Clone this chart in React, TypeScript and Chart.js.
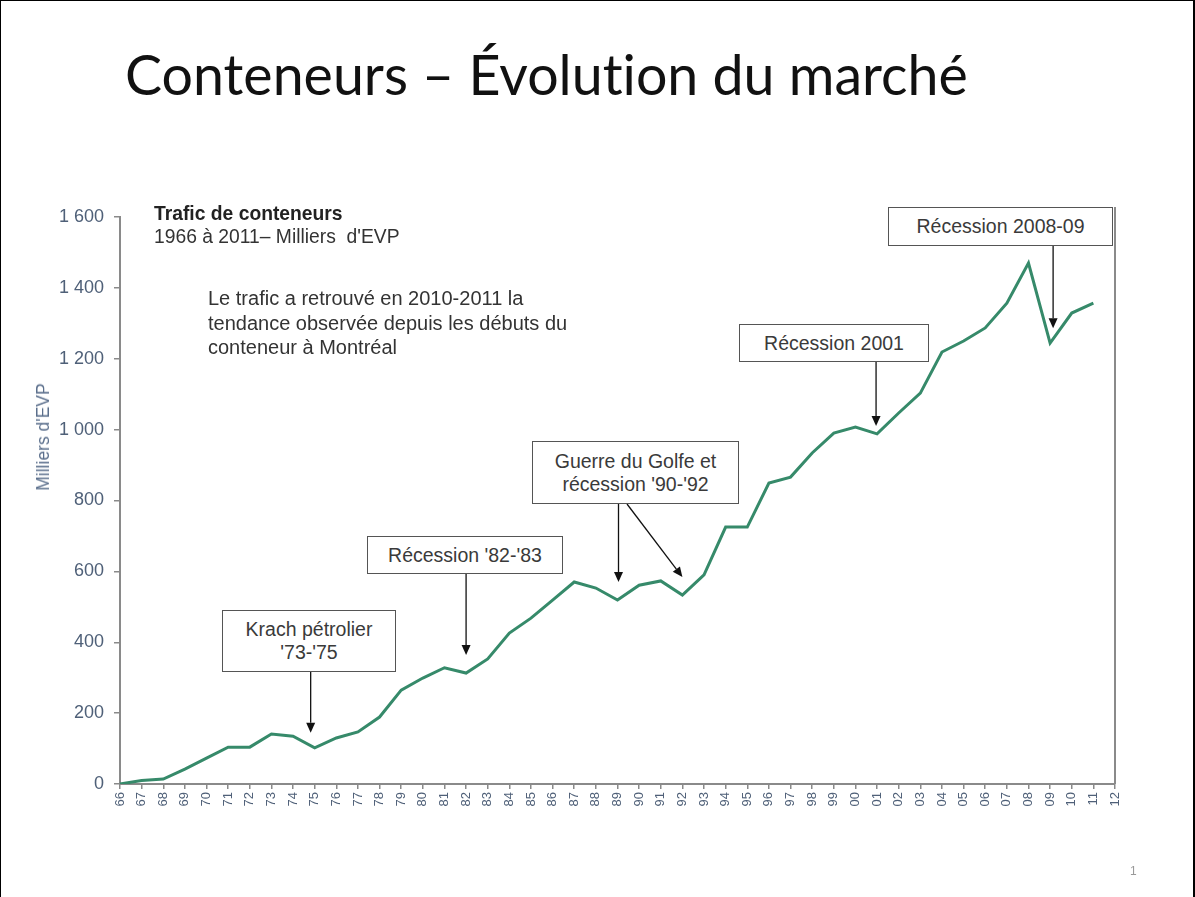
import React, { useEffect, useRef } from 'react';
import { Chart, registerables } from 'chart.js';

Chart.register(...registerables);

const xLabels = ['66','67','68','69','70','71','72','73','74','75','76','77','78','79','80','81','82','83','84','85','86','87','88','89','90','91','92','93','94','95','96','97','98','99','00','01','02','03','04','05','06','07','08','09','10','11','12'];

const traffic = [0, 10, 14, 42, 73, 104, 104, 141, 135, 102, 130, 147, 189, 265, 299, 328, 313, 353, 426, 468, 519, 570, 553, 519, 561, 573, 533, 590, 725, 725, 849, 866, 934, 990, 1007, 988, 1047, 1103, 1219, 1250, 1287, 1357, 1470, 1244, 1329, 1357];

const yTickLabels = ['0', '200', '400', '600', '800', '1 000', '1 200', '1 400', '1 600'];

const chartTitle = 'Conteneurs – Évolution du marché';
const subTitle = ['Trafic de conteneurs', "1966 à 2011– Milliers  d'EVP"];
const note = ['Le trafic a retrouvé en 2010-2011 la', 'tendance observée depuis les débuts du', 'conteneur à Montréal'];
const yTitle = "Milliers d'EVP";

type Arrow = { year: string; gap: number; dx: number; fromX?: number };
type Note = { lines: string[]; left: number; top: number; width: number; height: number; arrows: Arrow[] };

const annotations: Note[] = [
  { lines: ['Krach pétrolier', "'73-'75"], left: 222, top: 610, width: 174, height: 62, arrows: [{ year: '75', gap: 15, dx: -4 }] },
  { lines: ["Récession '82-'83"], left: 367, top: 536, width: 196, height: 38, arrows: [{ year: '82', gap: 18, dx: 0 }] },
  { lines: ['Guerre du Golfe et', "récession '90-'92"], left: 532, top: 441, width: 207, height: 63, arrows: [{ year: '89', gap: 18, dx: 1 }, { year: '92', gap: 18, dx: 0, fromX: 627 }] },
  { lines: ['Récession 2001'], left: 739, top: 324, width: 190, height: 38, arrows: [{ year: '01', gap: 8, dx: -1 }] },
  { lines: ['Récession 2008-09'], left: 888, top: 207, width: 225, height: 39, arrows: [{ year: '09', gap: 15, dx: 3 }] },
];

const arrowPlugin = {
  id: 'arrowsAndFrame',
  afterDatasetsDraw(chart: any) {
    const ctx = chart.ctx;
    const xs = chart.scales.x;
    const ys = chart.scales.y;
    const area = chart.chartArea;
    ctx.save();
    ctx.strokeStyle = '#8a8a8a';
    ctx.lineWidth = 2;
    ctx.beginPath();
    ctx.moveTo(area.right, 207);
    ctx.lineTo(area.right, area.bottom);
    ctx.stroke();

    ctx.strokeStyle = '#111';
    ctx.fillStyle = '#111';
    ctx.lineWidth = 1.3;
    annotations.forEach((a) => {
      a.arrows.forEach((ar) => {
        const idx = xLabels.indexOf(ar.year);
        const tx = xs.getPixelForValue(idx) + ar.dx;
        const ty = ys.getPixelForValue(traffic[idx]) - ar.gap;
        const sx = ar.fromX ?? tx;
        const sy = a.top + a.height;
        const ang = Math.atan2(ty - sy, tx - sx);
        const L = 10;
        const W = 4.5;
        const bx = tx - L * Math.cos(ang);
        const by = ty - L * Math.sin(ang);
        ctx.beginPath();
        ctx.moveTo(sx, sy);
        ctx.lineTo(bx, by);
        ctx.stroke();
        ctx.beginPath();
        ctx.moveTo(tx, ty);
        ctx.lineTo(bx - W * Math.sin(ang), by + W * Math.cos(ang));
        ctx.lineTo(bx + W * Math.sin(ang), by - W * Math.cos(ang));
        ctx.closePath();
        ctx.fill();
      });
    });
    ctx.restore();
  },
};

const AXIS_COLOR = '#8a8a8a';
const LABEL_COLOR = '#4f6078';
const textFont = 'Liberation Sans, Arial, sans-serif';

function ChartCanvas() {
  const ref = useRef<HTMLCanvasElement | null>(null);
  useEffect(() => {
    if (!ref.current) return;
    const chart = new Chart(ref.current, {
      type: 'line',
      data: {
        labels: xLabels,
        datasets: [
          {
            data: traffic,
            borderColor: '#368a6a',
            borderWidth: 3,
            pointRadius: 0,
            tension: 0,
            fill: false,
          },
        ],
      },
      options: {
        animation: false,
        responsive: false,
        maintainAspectRatio: false,
        layout: { padding: { left: 0, top: 217, right: 80, bottom: 73 } },
        plugins: { legend: { display: false }, tooltip: { enabled: false }, title: { display: false } },
        scales: {
          x: {
            type: 'category',
            offset: false,
            grid: { display: true, drawOnChartArea: false, drawTicks: true, tickLength: 5, color: AXIS_COLOR, lineWidth: 1.5 },
            border: { display: true, color: AXIS_COLOR, width: 2 },
            ticks: {
              autoSkip: false,
              maxRotation: 90,
              minRotation: 90,
              padding: 3,
              color: LABEL_COLOR,
              font: { family: textFont, size: 13 },
            },
            afterFit: (s: any) => { s.height = 40; },
          },
          y: {
            min: 0,
            max: 1600,
            grid: { display: true, drawOnChartArea: false, drawTicks: true, tickLength: 6, color: AXIS_COLOR, lineWidth: 1.5 },
            border: { display: true, color: AXIS_COLOR, width: 2 },
            ticks: {
              stepSize: 200,
              padding: 10,
              color: LABEL_COLOR,
              font: { family: textFont, size: 18 },
              callback: (_v: any, i: number) => yTickLabels[i],
            },
            title: { display: false },
            afterFit: (s: any) => { s.width = 120; },
          },
        },
      },
      plugins: [arrowPlugin],
    } as any);
    return () => chart.destroy();
  }, []);
  return <canvas ref={ref} width={1195} height={897} style={{ position: 'absolute', left: 0, top: 0, width: 1195, height: 897 }} />;
}

export default function App() {
  return (
    <div style={{ position: 'fixed', left: 0, top: 0, width: 1195, height: 897, background: '#fff', overflow: 'hidden' }}>
      <div style={{ position: 'absolute', left: 0, top: 0, width: 1195, height: 900, boxSizing: 'border-box', borderLeft: '1px solid #000', borderTop: '1px solid #000', borderRight: '2px solid #000' }} />
      <ChartCanvas />
      <div style={{ position: 'absolute', left: 125, top: 46, fontFamily: 'Lato, sans-serif', fontSize: 55.5, lineHeight: '56px', color: '#111', whiteSpace: 'nowrap', fontVariantLigatures: 'none', fontFeatureSettings: '"liga" 0' }}>{chartTitle}</div>
      <div style={{ position: 'absolute', left: 43, top: 437, width: 0, height: 0 }}>
        <div style={{ position: 'absolute', left: 0, top: 0, transform: 'translate(-50%, -50%) rotate(-90deg)', fontFamily: textFont, fontSize: 17.5, lineHeight: '20px', color: '#5b6f8c', whiteSpace: 'nowrap' }}>{yTitle}</div>
      </div>
      <div style={{ position: 'absolute', left: 154, top: 202, fontFamily: textFont, fontSize: 19.3, lineHeight: '23px', color: '#222', whiteSpace: 'pre' }}>
        <div style={{ fontWeight: 'bold' }}>{subTitle[0]}</div>
        <div style={{ color: '#333' }}>{subTitle[1]}</div>
      </div>
      <div style={{ position: 'absolute', left: 208, top: 286, fontFamily: textFont, fontSize: 20, lineHeight: '24.5px', color: '#333', whiteSpace: 'nowrap' }}>
        {note.map((l, i) => <div key={i}>{l}</div>)}
      </div>
      {annotations.map((a, i) => (
        <div key={i} style={{ position: 'absolute', left: a.left, top: a.top, width: a.width, height: a.height, boxSizing: 'border-box', border: '1.5px solid #555', background: '#fff', display: 'flex', flexDirection: 'column', justifyContent: 'center', alignItems: 'center', fontFamily: textFont, fontSize: 19.5, lineHeight: '23px', color: '#3a3a3a', whiteSpace: 'nowrap' }}>
          {a.lines.map((l, j) => <div key={j}>{l}</div>)}
        </div>
      ))}
      <div style={{ position: 'absolute', left: 1130, top: 864, fontFamily: textFont, fontSize: 12, color: '#999' }}>1</div>
    </div>
  );
}
